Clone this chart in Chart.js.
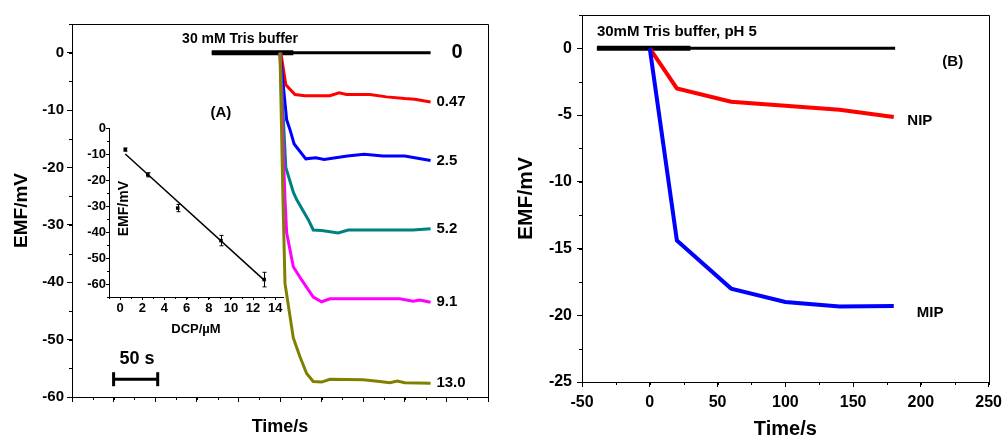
<!DOCTYPE html>
<html>
<head>
<meta charset="utf-8">
<title>DCP potentiometric response</title>
<script src="https://cdn.jsdelivr.net/npm/chart.js@4.4.0/dist/chart.umd.min.js"></script>
<style>
  html, body { margin: 0; padding: 0; background: #fff; }
  #page { position: relative; width: 1008px; height: 439px; overflow: hidden; }
  .panel { position: absolute; }
</style>
</head>
<body>
<div id="page">
  <div class="panel" style="left:0;top:0;width:500px;height:439px"><canvas id="chartA"></canvas></div>
  <div class="panel" style="left:500px;top:0;width:508px;height:439px"><canvas id="chartB"></canvas></div>
  <div class="panel" style="left:60px;top:110px;width:240px;height:230px"><canvas id="chartInset"></canvas></div>
</div>
<script>
// Panel A - EMF traces vs time after each DCP addition (s, mV)
const bufferTimeA = [168, 266];
const bufferEmfA = [0, 0];
const baseTimeA = [168, 431];
const baseEmfA = [0, 0];

const time047 = [251, 257, 268, 280, 310, 321, 330, 358, 378, 400, 412, 431];
const emf047 = [0, -5.6, -7.3, -7.5, -7.5, -7.0, -7.3, -7.3, -7.7, -8.0, -8.1, -8.6];

const time25 = [250, 258, 262, 267, 281, 293, 303, 331, 351, 374, 400, 431];
const emf25 = [0, -11.7, -13.4, -15.9, -18.5, -18.3, -18.6, -18.0, -17.7, -18.0, -18.0, -18.8];

const time52 = [250, 257, 266, 270, 284, 290, 300, 320, 332, 410, 431];
const emf52 = [0, -20.0, -24.3, -25.6, -29.1, -30.9, -31.0, -31.4, -30.9, -30.9, -30.7];

const time91 = [250, 256, 258, 266, 276, 290, 300, 310, 394, 410, 418, 431];
const emf91 = [0, -25.6, -31.4, -37.3, -39.6, -42.6, -43.4, -42.9, -42.9, -43.3, -43.1, -43.5];

const time130 = [250, 253.6, 256, 266, 274, 282, 290, 300, 310, 350, 370, 382, 391, 400, 431];
const emf130 = [0, -25.6, -40.2, -49.7, -53.0, -55.9, -57.3, -57.4, -56.9, -57.0, -57.3, -57.5, -57.2, -57.5, -57.6];

const concLabels = ['0', '0.47', '2.5', '5.2', '9.1', '13.0'];

// 50 s scale bar
const scaleBarTime = [50, 103];
const scaleBarEmf = [-56.9, -56.9];

// Inset - calibration (DCP in uM, EMF in mV)
const dcpConc = [0.47, 2.5, 5.2, 9.1, 13.0];
const dcpEmf = [-8.3, -18.0, -30.8, -43.3, -58.3];
const dcpErr = [0.6, 0.8, 1.4, 2.0, 2.8];
const fitConc = [0.47, 13.0];
const fitEmf = [-10.0, -58.5];

// Panel B - MIP vs NIP response (s, mV)
const bufferTimeB = [-39, 30];
const bufferEmfB = [0, 0];
const baseTimeB = [-39, 181];
const baseEmfB = [0, 0];
const timeB = [0, 20, 60, 100, 140, 180];
const nipEmf = [0, -3.0, -4.0, -4.3, -4.6, -5.15];
const mipEmf = [0, -14.4, -18.0, -19.0, -19.35, -19.3];

const FONT = '"Liberation Sans", Arial, sans-serif';

function line(xs, ys, color, width) {
    return {
        data: xs.map((x, i) => ({ x: x, y: ys[i] })),
        showLine: true,
        borderColor: color,
        backgroundColor: color,
        borderWidth: width,
        pointRadius: 0,
        tension: 0
    };
}

function axis(o) {
    return {
        type: 'linear',
        min: o.min,
        max: o.max,
        afterFit: function(s) {
            if (s.isHorizontal()) s.height = o.size; else s.width = o.size;
        },
        border: { color: '#000', width: 1 },
        grid: { drawOnChartArea: false, color: '#000', tickLength: o.tickLen || 5 },
        ticks: {
            stepSize: o.step,
            includeBounds: false,
            display: o.labels !== false,
            autoSkip: false,
            maxRotation: 0,
            color: '#000',
            padding: o.pad || 0,
            font: { family: FONT, size: o.font || 15, weight: 'bold' }
        },
        title: o.title ? {
            display: true,
            text: o.title,
            color: '#000',
            padding: o.titlePad,
            font: { family: FONT, size: o.titleSize, weight: 'bold', lineHeight: 1 }
        } : { display: false }
    };
}

// short minor ticks between the major ones
const minorTicks = {
    id: 'minorTicks',
    afterDraw(chart, args, opts) {
        const ctx = chart.ctx;
        ctx.save();
        ctx.strokeStyle = '#000';
        ctx.lineWidth = 1;
        for (const id in opts.steps) {
            const s = chart.scales[id];
            const step = opts.steps[id];
            for (let v = Math.ceil(s.min / step) * step; v <= s.max + 1e-9; v += step) {
                const p = Math.round(s.getPixelForValue(v)) + 0.5;
                ctx.beginPath();
                if (s.isHorizontal()) {
                    ctx.moveTo(p, s.top);
                    ctx.lineTo(p, s.top + opts.len);
                } else {
                    ctx.moveTo(s.right, p);
                    ctx.lineTo(s.right - opts.len, p);
                }
                ctx.stroke();
            }
        }
        ctx.restore();
    }
};

// top and right edges of the plot box
const frame = {
    id: 'frame',
    afterDraw(chart, args, opts) {
        if (!opts.show) return;
        const { ctx, chartArea: a } = chart;
        ctx.save();
        ctx.strokeStyle = '#000';
        ctx.lineWidth = 1;
        ctx.beginPath();
        ctx.moveTo(Math.round(a.left) + 0.5, Math.round(a.top) + 0.5);
        ctx.lineTo(Math.round(a.right) + 0.5, Math.round(a.top) + 0.5);
        ctx.lineTo(Math.round(a.right) + 0.5, Math.round(a.bottom) + 0.5);
        ctx.stroke();
        ctx.restore();
    }
};

// text placed at data coordinates
const textLabels = {
    id: 'textLabels',
    afterDatasetsDraw(chart, args, opts) {
        const { ctx, scales: { x, y } } = chart;
        ctx.save();
        ctx.fillStyle = '#000';
        ctx.textBaseline = 'middle';
        for (const it of opts.items || []) {
            ctx.font = 'bold ' + it.size + 'px ' + FONT;
            ctx.textAlign = it.align || 'left';
            const px = x.getPixelForValue(it.x);
            const py = y.getPixelForValue(it.y);
            if (it.rotate) {
                ctx.save();
                ctx.translate(px, py);
                ctx.rotate(-Math.PI / 2);
                ctx.fillText(it.text, 0, 0);
                ctx.restore();
            } else {
                ctx.fillText(it.text, px, py);
            }
        }
        ctx.restore();
    }
};

const errorBars = {
    id: 'errorBars',
    afterDatasetsDraw(chart, args, opts) {
        if (!opts.err) return;
        const { ctx, scales: { x, y } } = chart;
        ctx.save();
        ctx.strokeStyle = '#000';
        ctx.lineWidth = 1;
        opts.err.forEach((e, i) => {
            const px = Math.round(x.getPixelForValue(opts.xs[i])) + 0.5;
            const y1 = y.getPixelForValue(opts.ys[i] + e);
            const y2 = y.getPixelForValue(opts.ys[i] - e);
            ctx.beginPath();
            ctx.moveTo(px, y1); ctx.lineTo(px, y2);
            ctx.moveTo(px - 2, y1); ctx.lineTo(px + 2, y1);
            ctx.moveTo(px - 2, y2); ctx.lineTo(px + 2, y2);
            ctx.stroke();
        });
        ctx.restore();
    }
};

Chart.register(minorTicks, frame, textLabels, errorBars);

const baseOptions = {
    responsive: true,
    maintainAspectRatio: false,
    animation: false,
    events: []
};

// ---- Panel A ----
const lastA = [0, emf047.at(-1), emf25.at(-1), emf52.at(-1), emf91.at(-1), emf130.at(-1)];
const concItems = concLabels.map((t, i) => ({
    text: t, x: i === 0 ? 456 : 438, y: lastA[i], size: i === 0 ? 20 : 15
}));

const scaleBar = line(scaleBarTime, scaleBarEmf, '#000', 3);
scaleBar.pointRadius = 7;
scaleBar.pointStyle = 'line';
scaleBar.rotation = 90;
scaleBar.pointBorderWidth = 3;
scaleBar.pointBorderColor = '#000';

new Chart(document.getElementById('chartA'), {
    type: 'scatter',
    data: {
        datasets: [
            line(time130, emf130, '#808000', 3),
            line(time91, emf91, '#ff00ff', 3),
            line(time52, emf52, '#008080', 3),
            line(time25, emf25, '#0000ff', 3),
            line(time047, emf047, '#ff0000', 3),
            scaleBar,
            line(bufferTimeA, bufferEmfA, '#000', 5),
            line(baseTimeA, baseEmfA, '#000', 3)
        ]
    },
    options: Object.assign({}, baseOptions, {
        layout: { padding: { top: 24, right: 12, left: 0, bottom: 0 } },
        plugins: {
            legend: { display: false },
            tooltip: { enabled: false },
            frame: { show: true },
            minorTicks: { steps: { x: 25, y: 5 }, len: 3 },
            textLabels: {
                items: [
                    { text: '30 mM Tris buffer', x: 202, y: 2.4, size: 14, align: 'center' },
                    { text: '(A)', x: 179, y: -10.5, size: 15, align: 'center' },
                    { text: '50 s', x: 78, y: -53.4, size: 18, align: 'center' }
                ].concat(concItems)
            }
        },
        scales: {
            x: axis({ min: 0, max: 500, step: 50, size: 42, labels: false,
                      title: 'Time/s', titleSize: 18, titlePad: { top: 0, bottom: 3 } }),
            y: axis({ min: -60, max: 5, step: 10, size: 72, font: 15, pad: 3,
                      title: 'EMF/mV', titleSize: 19, titlePad: { top: 12, bottom: 0 } })
        }
    })
});

// ---- Inset ----
new Chart(document.getElementById('chartInset'), {
    type: 'scatter',
    data: {
        datasets: [
            {
                data: dcpConc.map((x, i) => ({ x: x, y: dcpEmf[i] })),
                pointStyle: 'rect',
                pointRadius: 2.5,
                backgroundColor: '#000',
                borderColor: '#000',
                borderWidth: 0
            },
            line(fitConc, fitEmf, '#000', 1.5)
        ]
    },
    options: Object.assign({}, baseOptions, {
        layout: { padding: { top: 18, right: 17, left: 0, bottom: 0 } },
        plugins: {
            legend: { display: false },
            tooltip: { enabled: false },
            minorTicks: { steps: { x: 1, y: 5 }, len: 2 },
            errorBars: { xs: dcpConc, ys: dcpEmf, err: dcpErr },
            textLabels: {
                items: [{ text: 'EMF/mV', x: 0.35, y: -31, size: 14, align: 'center', rotate: true }]
            }
        },
        scales: {
            x: axis({ min: -1, max: 14.7, step: 2, size: 43, font: 13, pad: 1, tickLen: 3,
                      title: 'DCP/\u00b5M', titleSize: 13, titlePad: { top: 0, bottom: 4 } }),
            y: axis({ min: -65, max: 0, step: 10, size: 49, font: 13, pad: 0, tickLen: 3 })
        }
    })
});

// ---- Panel B ----
new Chart(document.getElementById('chartB'), {
    type: 'scatter',
    data: {
        datasets: [
            line(timeB, mipEmf, '#0000ff', 4),
            line(timeB, nipEmf, '#ff0000', 4),
            line(bufferTimeB, bufferEmfB, '#000', 5),
            line(baseTimeB, baseEmfB, '#000', 3)
        ]
    },
    options: Object.assign({}, baseOptions, {
        layout: { padding: { top: 15, right: 16, left: 0, bottom: 0 } },
        plugins: {
            legend: { display: false },
            tooltip: { enabled: false },
            frame: { show: true },
            minorTicks: { steps: { x: 25, y: 2.5 }, len: 3 },
            textLabels: {
                items: [
                    { text: '30mM Tris buffer, pH 5', x: -39, y: 1.2, size: 15 },
                    { text: '(B)', x: 223.5, y: -1.0, size: 15, align: 'center' },
                    { text: 'NIP', x: 190, y: -5.4, size: 15 },
                    { text: 'MIP', x: 197, y: -19.8, size: 15 }
                ]
            }
        },
        scales: {
            x: axis({ min: -50, max: 250, step: 50, size: 57, font: 16, pad: 6,
                      title: 'Time/s', titleSize: 20, titlePad: { top: 0, bottom: 0 } }),
            y: axis({ min: -25, max: 2.5, step: 5, size: 82, font: 16, pad: 5,
                      title: 'EMF/mV', titleSize: 21, titlePad: { top: 16, bottom: 0 } })
        }
    })
});
</script>
</body>
</html>
